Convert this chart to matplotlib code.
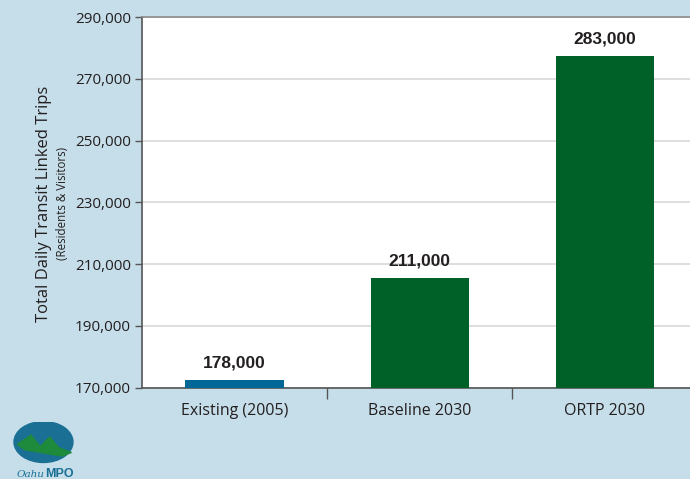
import numpy as np
import matplotlib
matplotlib.use("Agg")
import matplotlib.pyplot as plt
from matplotlib.patches import Ellipse

categories = ["Existing (2005)", "Baseline 2030", "ORTP 2030"]
bar_values = [172500, 205500, 277500]
label_values = [178000, 211000, 283000]
bar_colors = ["#006797", "#006128", "#006128"]
yticks = [170000, 190000, 210000, 230000, 250000, 270000, 290000]

bg = "#c6deea"
fig = plt.figure(figsize=(6.9, 4.79), dpi=100, facecolor=bg)
ax = fig.add_axes([0.2058, 0.191, 0.8125, 0.773])
ax.set_facecolor("white")

x = np.arange(len(categories))
ax.bar(x, [v - 170000 for v in bar_values], bottom=170000, width=0.53,
       color=bar_colors, zorder=3)
for xi, lv in zip(x, label_values):
    ax.text(xi, lv, "{:,}".format(lv), ha="center", va="center",
            fontsize=12.5, fontweight="bold", family="Liberation Sans",
            color="#231f20", zorder=4)

ax.set_xlim(-0.5, 2.53)
ax.set_ylim(170000, 290000)
ax.set_yticks(yticks)
ax.set_yticklabels(["{:,}".format(t) for t in yticks], fontsize=11,
                   family="Open Sans", color="#231f20")
ax.yaxis.grid(True, color="#d8d8d8", linewidth=1.2, zorder=0)
ax.tick_params(axis="y", length=5, width=1, color="#555555", pad=3)

# category labels centered, tick marks at category boundaries
ax.set_xticks(x)
ax.set_xticklabels(categories, fontsize=11.5, family="Open Sans", color="#231f20")
ax.tick_params(axis="x", length=0, pad=11)
ax.set_xticks([0.5, 1.5], minor=True)
ax.tick_params(axis="x", which="minor", length=8, width=1, color="#555555")

for s in ["left", "bottom"]:
    ax.spines[s].set_color("#555555")
    ax.spines[s].set_linewidth(1.2)
ax.spines["top"].set_color("#8a8a8a")
ax.spines["top"].set_linewidth(1.2)
ax.spines["right"].set_visible(False)

fig.text(0.064, 0.575, "Total Daily Transit Linked Trips", rotation=90,
         ha="center", va="center", fontsize=12, family="Open Sans",
         color="#231f20")
fig.text(0.09, 0.575, "(Residents & Visitors)", rotation=90,
         ha="center", va="center", fontsize=8.3, family="Open Sans",
         color="#231f20")

# simple logo
lax = fig.add_axes([0.018, 0.025, 0.09, 0.095])
lax.set_xlim(0, 1)
lax.set_ylim(0, 1)
lax.axis("off")
lax.add_patch(Ellipse((0.5, 0.55), 0.95, 0.9, color="#1a6f94"))
lax.fill([0.08, 0.3, 0.45, 0.6, 0.75, 0.95, 0.8, 0.2], [0.5, 0.7, 0.45, 0.66, 0.42, 0.32, 0.24, 0.38],
         color="#1e8a3c")
fig.text(0.065, 0.005, "Oahu", fontsize=7.5, style="italic", family="DejaVu Serif",
         color="#1a6f94", ha="right")
fig.text(0.065, 0.005, "MPO", fontsize=9, fontweight="bold", family="Liberation Sans",
         color="#1a6f94", ha="left")

fig.savefig("out.png", dpi=100, facecolor=bg)
